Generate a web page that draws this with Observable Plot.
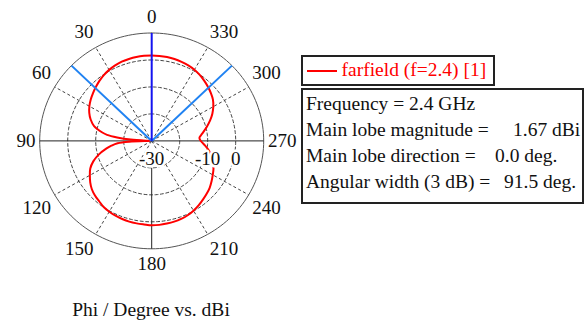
<!DOCTYPE html>
<html>
<head>
<meta charset="utf-8">
<script src="https://cdn.jsdelivr.net/npm/d3@7"></script>
<script src="https://cdn.jsdelivr.net/npm/@observablehq/plot@0.6"></script>
<style>
  html, body { margin: 0; padding: 0; background: #fff; }
  #chart { position: relative; width: 587px; height: 325px; overflow: hidden;
           font-family: "Liberation Serif", "Times New Roman", serif; }
  #chart svg { position: absolute; left: 0; top: 0; }
  .box { position: absolute; box-sizing: border-box; border: 2px solid #222; background: #fff; }
  .t { position: absolute; font-size: 19.5px; line-height: 19.5px; white-space: pre; color: #111; }
</style>
</head>
<body>
<div id="chart"></div>
<script>
// Azimuth cut of the far-field pattern: phi in degrees, realized gain in dBi
const phi = [0, 5, 10, 15, 20, 25, 30, 35, 40, 45, 50, 55, 60, 65, 70, 75, 80, 82, 84, 86, 88, 90,
  92, 94, 97, 100, 105, 110, 115, 120, 125, 130, 135, 140, 145, 150, 155, 160, 165, 170, 175,
  180, 185, 190, 195, 200, 205, 210, 215, 220, 225, 230, 235, 240, 245, 250, 255, 260, 265,
  268, 271, 274, 277, 280, 285, 290, 295, 300, 305, 310, 315, 320, 325, 330, 335, 340, 345,
  350, 355];
const gain = [1.67, 1.66, 1.6, 1.45, 1.28, 0.9, 0.4, -0.2, -0.95, -1.78, -2.6, -3.4, -4.3, -5.4,
  -6.8, -8.7, -12.1, -13.9, -17.6, -22.5, -29, -29.5,
  -22, -17.8, -15.5, -13.5, -10.4, -7.8, -5.8, -4.5, -3.2, -2.1, -1.35, -0.8, -0.1, 0.3, 0.58,
  0.8, 0.99, 1.05, 1.1,
  1.3, 1.25, 1.12, 1.0, 0.78, 0.4, -0.15, -0.8, -1.55, -2.25, -2.97, -3.9, -4.82, -5.65, -6.65,
  -7.85, -9.2, -10.9,
  -11.9, -12.7, -12.9, -12.2, -11.3, -9.6, -7.8, -6.1, -4.6, -3.3, -2.4, -1.6, -0.85, -0.1,
  0.5, 0.9, 1.18, 1.42, 1.55, 1.62];

// Radial grid (dBi)
const floorLevel = -30;
const outerLevel = 10;
const ringLevels = [-20, -10, 0];
const levelLabels = [-30, -10, 0];

// Angular grid (degrees, counter-clockwise from the top)
const spokeAngles = [30, 60, 120, 150, 210, 240, 300, 330];
const angleTicks = [0, 30, 60, 90, 120, 150, 180, 210, 240, 270, 300, 330];

// Main-lobe summary
const frequencyGHz = 2.4;
const mainLobeMagnitude = 1.67;
const mainLobeDirection = 0.0;
const angularWidth = 91.5;
const seriesName = "farfield (f=2.4) [1]";
const axisTitle = "Phi / Degree vs. dBi";

// polar (angle, level) -> cartesian in dB units relative to the -30 dBi centre
const rad = Math.PI / 180;
function polar(angle, level) {
  const r = Math.max(0, level - floorLevel);
  return { x: -r * Math.sin(angle * rad), y: r * Math.cos(angle * rad) };
}
function circle(level) {
  return d3.range(0, 361, 2).map(a => ({ level, ...polar(a, level) }));
}

const pattern = phi.map((p, i) => ({ phi: p, gain: gain[i], ...polar(p, gain[i]) }));
const rings = ringLevels.flatMap(circle);
const outer = circle(outerLevel);
const span = outerLevel - floorLevel;

const spokes = spokeAngles.map(a => {
  const e = polar(a, outerLevel);
  return { x1: 0, y1: 0, x2: e.x, y2: e.y };
});
const hAxis = [(() => { const a = polar(90, outerLevel), b = polar(270, outerLevel);
  return { x1: a.x, y1: a.y, x2: b.x, y2: b.y }; })()];
const vAxis = [(() => { const a = polar(180, ringLevels[0]), b = polar(180, outerLevel);
  return { x1: a.x, y1: a.y, x2: b.x, y2: b.y }; })()];
const mainLobe = [(() => { const b = polar(mainLobeDirection, outerLevel);
  return { x1: 0, y1: 0, x2: b.x, y2: b.y }; })()];
const beamEdges = [mainLobeDirection + angularWidth / 2, mainLobeDirection - angularWidth / 2]
  .map(a => { const b = polar(a, outerLevel); return { x1: 0, y1: 0, x2: b.x, y2: b.y }; });

// angle labels sit just outside the outer ring, anchored away from the centre
const tickRadius = floorLevel + span + 1.5;
const tickMarks = angleTicks.map(a => {
  const p = polar(a, tickRadius);
  const s = Math.round(Math.sin(a * rad) * 1000) / 1000;
  const c = Math.round(Math.cos(a * rad) * 1000) / 1000;
  return Plot.text([{ ...p, label: String(a) }], {
    x: "x", y: "y", text: "label",
    textAnchor: s > 0 ? "end" : s < 0 ? "start" : "middle",
    lineAnchor: c > 0 ? "bottom" : c < 0 ? "top" : "middle",
    dy: c > 0 ? -5.7 : c < 0 ? 3.5 : 0,
    fontSize: 19, fill: "#111"
  });
});

const svg = Plot.plot({
  width: 587,
  height: 325,
  margin: 0,
  style: { fontFamily: "Liberation Serif, Times New Roman, serif", background: "transparent" },
  x: { domain: [-span, span], range: [39.2, 263.2], axis: null },
  y: { domain: [-span, span], range: [248.3, 32.5], axis: null },
  marks: [
    Plot.line(rings, { x: "x", y: "y", z: "level", stroke: "#444", strokeWidth: 1, strokeDasharray: "3,2.5" }),
    Plot.link(spokes, { x1: "x1", y1: "y1", x2: "x2", y2: "y2", stroke: "#444", strokeWidth: 1, strokeDasharray: "3,2.5" }),
    Plot.line(outer, { x: "x", y: "y", stroke: "#555", strokeWidth: 1 }),
    Plot.link(hAxis, { x1: "x1", y1: "y1", x2: "x2", y2: "y2", stroke: "#222", strokeWidth: 1 }),
    Plot.link(vAxis, { x1: "x1", y1: "y1", x2: "x2", y2: "y2", stroke: "#222", strokeWidth: 1 }),
    Plot.line(pattern, { x: "x", y: "y", stroke: "#ff0000", strokeWidth: 2, curve: "catmull-rom-closed" }),
    Plot.link(beamEdges, { x1: "x1", y1: "y1", x2: "x2", y2: "y2", stroke: "#1f82f2", strokeWidth: 2 }),
    Plot.link(mainLobe, { x1: "x1", y1: "y1", x2: "x2", y2: "y2", stroke: "#1414f0", strokeWidth: 2 }),
    Plot.text(levelLabels, {
      x: d => d - floorLevel, y: 0, dy: 18, text: d => String(d),
      fontSize: 19, fill: "#111", stroke: "white", strokeWidth: 5, paintOrder: "stroke"
    }),
    ...tickMarks
  ]
});

const chart = document.getElementById("chart");
chart.appendChild(svg);

// legend and summary boxes
function el(cls, css, text) {
  const d = document.createElement("div");
  d.className = cls;
  Object.assign(d.style, css);
  if (text != null) d.textContent = text;
  chart.appendChild(d);
  return d;
}
el("box", { left: "301px", top: "55px", width: "194px", height: "31px" });
el("", { position: "absolute", left: "307px", top: "70px", width: "30px", height: "2px", background: "#ff0000" });
el("t", { left: "341.5px", top: "60.4px", color: "#ff0000" }, seriesName);

el("box", { left: "301px", top: "88px", width: "283px", height: "116px" });
const rows = [
  ["Frequency = " + frequencyGHz + " GHz", null, 0],
  ["Main lobe magnitude =", mainLobeMagnitude.toFixed(2) + " dBi", 513],
  ["Main lobe direction =", mainLobeDirection.toFixed(1) + " deg.", 495],
  ["Angular width (3 dB) =", angularWidth.toFixed(1) + " deg.", 504]
];
const baselines = [110, 136, 162.2, 187.8];
rows.forEach(([label, value, vx], i) => {
  const top = (baselines[i] - 16.3) + "px";
  el("t", { left: "306px", top }, label);
  if (value) el("t", { left: vx + "px", top }, value);
});

el("t", { left: "1px", width: "300px", top: "299.5px", textAlign: "center" }, axisTitle);
</script>
</body>
</html>
